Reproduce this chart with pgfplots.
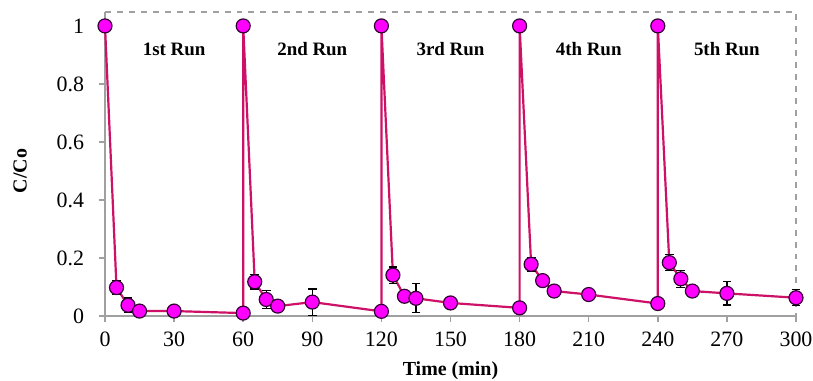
\documentclass[border=0pt]{standalone}
\usepackage{pgfplots}
\pgfplotsset{compat=1.18}
\usepackage{fontspec}
\setmainfont{Liberation Serif}
\definecolor{linec}{HTML}{CC1166}
\definecolor{markc}{HTML}{FF00FF}
\definecolor{axc}{HTML}{A0A0A0}
\begin{document}
\begin{tikzpicture}
\begin{axis}[
  anchor=south west, at={(0,0)},
  scale only axis, width=345.5bp, height=152bp,
  xmin=0, xmax=300, ymin=0, ymax=1.048,
  xtick={0,30,...,300}, ytick={0,0.2,...,1},
  yticklabels={0,0.2,0.4,0.6,0.8,1},
  /pgf/number format/assume math mode=true,
  tick label style={font=\fontsize{11}{13}\selectfont},
  yticklabel style={xshift=-4bp},
  xticklabel style={yshift=-1.5bp},
  axis x line*=bottom, axis y line*=left,
  axis line style={axc, line width=0.8pt, -},
  tick style={axc, line width=0.8pt},
  tick align=outside, major tick length=3bp,
  xlabel={\textbf{Time (min)}}, ylabel={\textbf{C/Co}},
  label style={font=\fontsize{11.4}{13}\selectfont},
  every axis x label/.style={at={(axis description cs:0.5,-0.181)}, anchor=center},
  every axis y label/.style={at={(axis description cs:-0.123,0.477)}, rotate=90, anchor=center},
  clip=false,
]
\draw[axc, dashed, line width=0.6pt] (rel axis cs:0,1) -- (rel axis cs:1,1) -- (rel axis cs:1,0);
\addplot[color=linec, line width=1.1bp, mark=*, mark size=3.5bp,
  mark options={fill=markc, draw=black!80!markc, line width=0.6pt},
  error bars/.cd, y dir=both, y explicit,
  error bar style={black, line width=0.6pt}, error mark options={black, line width=0.6pt, mark size=2.2bp, rotate=90}]
table[x=t, y=y, y error=e] {
t y e
0 1 0
5 0.098 0.025
10 0.037 0.025
15 0.017 0
30 0.017 0
60 0.010 0
60 1 0
65 0.118 0.025
70 0.057 0.03
75 0.034 0
90 0.048 0.045
120 0.016 0
120 1 0
125 0.141 0.028
130 0.068 0
135 0.061 0.05
150 0.045 0
180 0.028 0
180 1 0
185 0.178 0.024
190 0.122 0
195 0.086 0
210 0.074 0
240 0.043 0
240 1 0
245 0.184 0.028
250 0.128 0.03
255 0.086 0
270 0.078 0.04
300 0.063 0.028
};
\node[font=\fontsize{9.5}{11}\selectfont\bfseries] at (axis cs:30,0.92) {1st Run};
\node[font=\fontsize{9.5}{11}\selectfont\bfseries] at (axis cs:90,0.92) {2nd Run};
\node[font=\fontsize{9.5}{11}\selectfont\bfseries] at (axis cs:150,0.92) {3rd Run};
\node[font=\fontsize{9.5}{11}\selectfont\bfseries] at (axis cs:210,0.92) {4th Run};
\node[font=\fontsize{9.5}{11}\selectfont\bfseries] at (axis cs:270,0.92) {5th Run};
\end{axis}
\pgfresetboundingbox
\path (-52.5bp,-32.5bp) rectangle (354bp,158bp);
\end{tikzpicture}
\end{document}
